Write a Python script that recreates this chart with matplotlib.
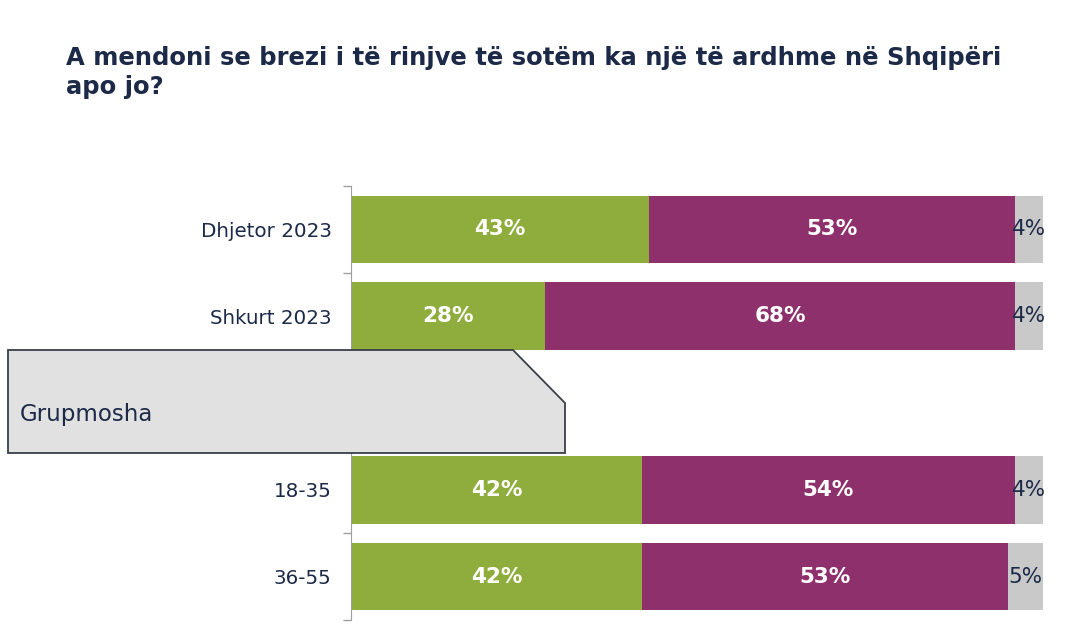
import matplotlib.pyplot as plt
import matplotlib.patches as mpatches
import numpy as np

# ── Data ──────────────────────────────────────────────────────────────────────
categories = ['Dhjetor 2023', 'Shkurt 2023', '', '18-35', '36-55']
po_values  = [43, 28, np.nan, 42, 42]   # green
jo_values  = [53, 68, np.nan, 54, 53]   # purple
nuk_values = [4, 4, np.nan, 4, 5]       # grey

TITLE = 'A mendoni se brezi i të rinjve të sotëm ka një të ardhme në Shqipëri\napo jo?'
GROUP_LABEL = 'Grupmosha'

GREEN  = '#8FAD3D'
PURPLE = '#8E306C'
GREY   = '#C9C9C9'
NAVY   = '#1C2A48'

W, H = 1088, 625
fig = plt.figure(figsize=(W / 100, H / 100), dpi=100)
ax = fig.add_axes([351 / W, 1 - 620 / H, (1043 - 351) / W, (620 - 186) / H])

y = np.arange(len(categories))
po = np.array(po_values, dtype=float)
jo = np.array(jo_values, dtype=float)
nk = np.array(nuk_values, dtype=float)
h = 0.78

ax.barh(y, po, height=h, color=GREEN, zorder=2)
ax.barh(y, jo, left=po, height=h, color=PURPLE, zorder=2)
ax.barh(y, nk, left=po + jo, height=h, color=GREY, zorder=2)

for i in range(len(categories)):
    if np.isnan(po[i]):
        continue
    ax.text(po[i] / 2, y[i], f'{po_values[i]:.0f}%', ha='center', va='center',
            color='white', fontsize=15.5, fontweight='bold')
    ax.text(po[i] + jo[i] / 2, y[i], f'{jo_values[i]:.0f}%', ha='center', va='center',
            color='white', fontsize=15.5, fontweight='bold')
    ax.text(po[i] + jo[i] + nk[i] / 2, y[i], f'{nuk_values[i]:.0f}%', ha='center',
            va='center', color=NAVY, fontsize=15.5)

ax.set_xlim(0, 100)
ax.set_ylim(len(categories) - 0.5, -0.5)
ax.set_yticks(y)
ax.set_yticklabels(categories, fontsize=14.3, color=NAVY)
ax.tick_params(axis='y', which='major', length=0, pad=14)
ax.set_yticks(np.arange(-0.5, len(categories), 1), minor=True)
ax.tick_params(axis='y', which='minor', length=6, color='#A0A0A0', width=1)
ax.set_xticks([])
for s in ['top', 'right', 'bottom']:
    ax.spines[s].set_visible(False)
ax.spines['left'].set_color('#A0A0A0')

# ── Title ─────────────────────────────────────────────────────────────────────
fig.text(66 / W, 1 - 46 / H, TITLE, ha='left', va='top', fontsize=17.5,
         fontweight='bold', color=NAVY, linespacing=1.25)

# ── Group label box ───────────────────────────────────────────────────────────
pts = np.array([[8, 350], [513, 350], [565, 403], [565, 453], [8, 453]], dtype=float)
pts[:, 1] = H - pts[:, 1]
box = mpatches.Polygon(pts, closed=True, transform=None, facecolor='#E1E1E1',
                       edgecolor='#3A3F48', linewidth=1.3, zorder=5)
fig.patches.append(box)
fig.text(20 / W, 1 - 414 / H, GROUP_LABEL, ha='left', va='center', fontsize=16.5,
         color=NAVY, zorder=6)

fig.savefig('out.png', dpi=100)
